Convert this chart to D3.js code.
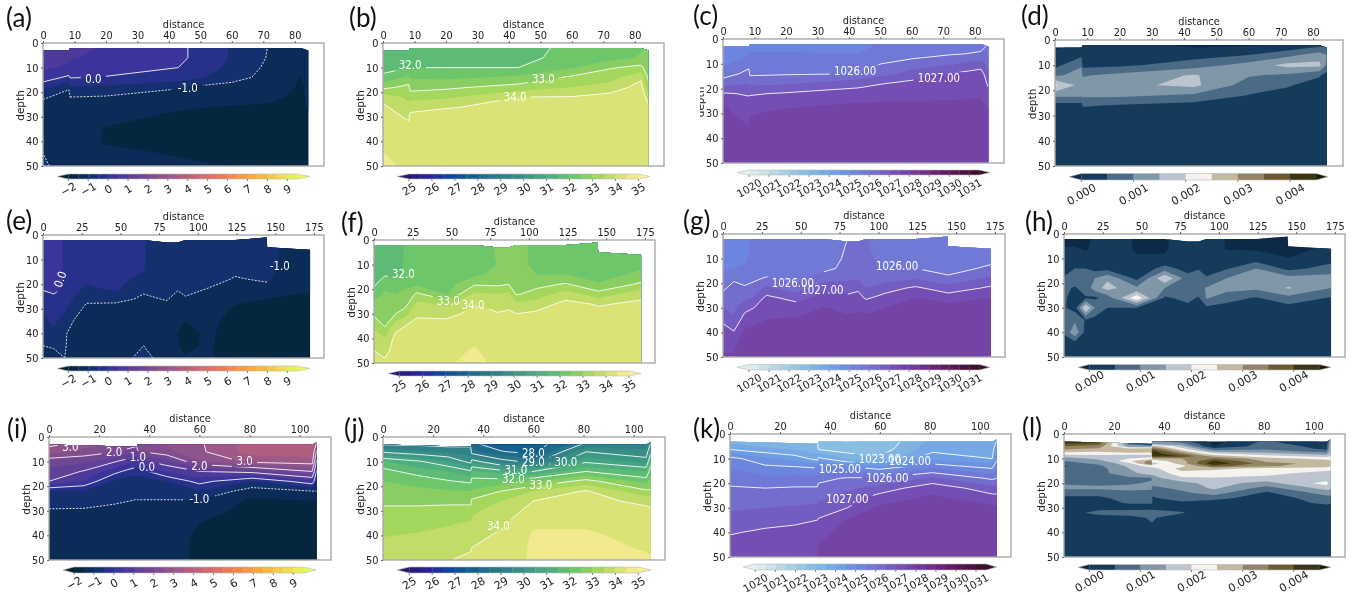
<!DOCTYPE html>
<html><head><meta charset="utf-8">
<script src="https://cdn.jsdelivr.net/npm/d3@7/dist/d3.min.js"></script>
<style>html,body{margin:0;background:#fff}svg{display:block;filter:blur(.4px)}text{font-family:"DejaVu Sans",sans-serif}</style>
</head><body><svg id="c" width="1352" height="595"></svg>
<script>
// ---------- shared grids ----------
const depthRows=[0,6,10,14,18,22,26,30,35,40,45,50];
const depthRowsL=[0,3,4,5,6,7,8,9,10,11,12,13,14,16,18,20,22,24,26,28,30,32,34,50];
const stations1=[0,8.2,8.6,20,43,60,72,82,84.3];
const stations2=[0,7,14,20,28,47,65,80,87,92,105,124,145,172.5];
const stations3=[0,14,26,35,35.4,47,60,81,105,106.8];
const surface1=[[0,3],[8.2,3],[8.6,2],[82,2],[84.3,3]];
const surface2=[[0,2],[65,2],[80,3],[87,3],[92,2],[124,2],[144.5,1],[144.8,5],[172.5,6]];
const surface3=[[0,3],[35,4],[35.4,3],[105,3],[106.2,2.5],[106.8,2]];
// ---------- fields: one list per station, one value per depth ----------
const tempA=[[.9,.8,.6,.25,-.3,-.95,-1.15,-1.2,-1.25,-1.25,-1,-.95],[.8,.6,.4,-.1,-.95,-1.15,-1.2,-1.25,-1.3,-1.3,-1.25,-1.15],[.7,.55,.3,.03,-.55,-1,-1.2,-1.25,-1.3,-1.3,-1.25,-1.2],[.5,.35,.15,-.02,-.6,-1.05,-1.3,-1.42,-1.52,-1.53,-1.42,-1.3],[.12,.12,0,-.2,-.97,-1.15,-1.47,-1.55,-1.6,-1.62,-1.52,-1.45],[-.55,-.55,-.62,-.8,-1.2,-1.35,-1.52,-1.6,-1.65,-1.65,-1.6,-1.51],[-1.02,-1.05,-1.12,-1.18,-1.3,-1.42,-1.55,-1.6,-1.65,-1.65,-1.62,-1.55],[-1.2,-1.2,-1.3,-1.52,-1.55,-1.58,-1.6,-1.6,-1.6,-1.6,-1.6,-1.55],[-1.2,-1.2,-1.25,-1.3,-1.4,-1.45,-1.45,-1.6,-1.6,-1.6,-1.6,-1.55]];
const salB=[[31.4,31.6,31.85,32.1,32.85,33.8,34.1,34.15,34.2,34.4,34.52,34.6],[31.5,31.75,32,32.65,33.15,33.4,33.6,33.95,34.1,34.2,34.3,34.42],[31.6,31.75,32,32.45,32.8,33.3,33.9,34.08,34.15,34.2,34.3,34.4],[31.7,31.8,32,32.4,32.9,33.4,33.97,34.15,34.2,34.25,34.3,34.35],[31.8,31.87,32,32.6,33.2,34,34.1,34.2,34.25,34.3,34.35,34.35],[32.1,32.15,32.45,33.1,33.5,34.03,34.15,34.2,34.25,34.3,34.35,34.35],[32.3,32.3,32.95,33.3,33.7,34.2,34.25,34.3,34.3,34.3,34.35,34.35],[32.4,32.55,33.15,33.9,34.2,34.3,34.3,34.3,34.3,34.3,34.35,34.35],[32.5,32.5,32.65,32.9,33.15,33.8,34.1,34.2,34.3,34.3,34.35,34.35]];
const denC=[[1024.9,1025.1,1025.4,1025.75,1026.3,1027.05,1027.52,1027.6,1027.65,1027.7,1027.75,1027.8],[1025,1025.4,1025.85,1026.15,1026.5,1026.95,1027.15,1027.35,1027.5,1027.65,1027.75,1027.8],[1025.1,1025.55,1025.7,1025.9,1026.4,1026.95,1027.2,1027.47,1027.6,1027.7,1027.75,1027.8],[1025.15,1025.55,1025.72,1025.95,1026.45,1027.05,1027.4,1027.6,1027.7,1027.7,1027.75,1027.8],[1025.35,1025.5,1025.85,1026,1026.85,1027.2,1027.52,1027.6,1027.7,1027.75,1027.8,1027.8],[1025.65,1025.8,1026.2,1026.7,1027.15,1027.35,1027.55,1027.65,1027.7,1027.75,1027.8,1027.8],[1025.7,1025.95,1026.45,1027,1027.3,1027.4,1027.55,1027.65,1027.7,1027.75,1027.8,1027.8],[1025.75,1026.05,1026.7,1027.25,1027.4,1027.45,1027.55,1027.65,1027.7,1027.75,1027.8,1027.8],[1025.9,1026.2,1026.35,1026.6,1026.9,1027.2,1027.4,1027.6,1027.7,1027.75,1027.8,1027.8]];
const shearD=[[-.4,.2,.35,.9,2.1,1.1,.3,.2,.15,.1,.1,.1],[-.1,.4,.95,1.2,1.3,1.1,.3,.2,.15,.1,.1,.1],[-.1,.2,.35,.95,1.25,1.1,.55,.2,.15,.1,.1,.1],[.05,.25,.4,1.15,1.38,1.1,.45,.2,.15,.1,.1,.1],[-.3,.3,.75,1.55,1.62,.9,.3,.2,.15,.1,.1,.1],[-.3,.5,1.2,1.05,.75,.48,.2,.15,.1,.1,.1,.1],[-.3,.85,1.65,.9,.55,.3,.15,.15,.1,.1,.1,.1],[-.1,1.25,1.65,.55,.3,.2,.1,.1,.1,.1,.1,.1],[.05,1,.9,.3,.45,.35,.2,.1,.1,.1,.1,.1]];
const tempE=[[.25,.2,.2,.15,.1,.03,-.2,-.45,-.6,-.75,-1,-1.1],[.25,.2,.2,.15,.1,.05,-.05,-.3,-.42,-.58,-.95,-1.15],[-.05,-.05,-.05,-.05,-.03,-.03,-.1,-.42,-.7,-.97,-.98,-1],[-.2,-.2,-.2,-.2,-.22,-.35,-.55,-.8,-1.02,-1.1,-1.1,-1.2],[-.25,-.25,-.25,-.28,-.4,-.6,-.92,-1.1,-1.15,-1.2,-1.25,-1.25],[-.3,-.3,-.3,-.32,-.38,-.42,-.9,-1.15,-1.2,-1.25,-1.3,-1.3],[-.48,-.48,-.48,-.48,-.62,-.95,-1.05,-1.15,-1.2,-1.15,-1,-.8],[-.7,-.7,-.7,-.72,-.8,-.92,-.98,-1.1,-1.3,-1.35,-1.35,-1.3],[-.75,-.75,-.75,-.77,-.85,-.98,-1.1,-1.2,-1.42,-1.51,-1.47,-1.4],[-.75,-.75,-.75,-.77,-.85,-.95,-1.02,-1.15,-1.5,-1.62,-1.58,-1.48],[-.8,-.8,-.8,-.82,-.9,-1,-1.1,-1.25,-1.4,-1.45,-1.46,-1.46],[-.85,-.85,-.85,-.95,-1.02,-1.1,-1.42,-1.55,-1.6,-1.6,-1.6,-1.6],[-.9,-.92,-.92,-.93,-.97,-1.07,-1.5,-1.6,-1.6,-1.6,-1.6,-1.6],[-1.15,-1.2,-1.22,-1.25,-1.3,-1.45,-1.6,-1.6,-1.65,-1.65,-1.65,-1.65]];
const salF=[[31.7,31.7,31.75,31.85,31.93,32.2,32.6,32.9,33.4,33.7,34,34.2],[31.7,31.75,31.8,31.95,32.3,32.6,32.65,32.8,32.97,33.55,33.85,34.1],[31.75,31.75,31.8,31.9,32.1,32.5,32.75,33,33.85,34.15,34.2,34.3],[32.05,32.05,32.05,32.1,32.35,32.65,32.8,33.3,34,34.15,34.25,34.3],[32.05,32.05,32.1,32.15,32.4,33.1,33.65,33.95,34.1,34.2,34.3,34.3],[32.1,32.1,32.15,32.2,32.3,32.45,33.4,33.9,34.15,34.25,34.35,34.42],[32.15,32.2,32.25,32.4,32.95,33.6,34,34.1,34.2,34.4,34.55,34.7],[32.55,32.55,32.52,32.65,32.9,33.5,33.7,34.05,34.15,34.25,34.3,34.35],[32.75,32.75,32.75,32.75,33,33.6,33.85,34.1,34.2,34.25,34.3,34.35],[32.7,32.7,32.7,32.7,32.8,32.95,33.6,34,34.15,34.25,34.3,34.35],[32.35,32.35,32.35,32.5,32.85,33.2,33.75,34.1,34.2,34.25,34.3,34.35],[32.2,32.2,32.25,32.5,33.05,33.75,34.15,34.2,34.25,34.3,34.3,34.35],[32.15,32.15,32.2,32.3,32.55,33.2,33.95,34.15,34.2,34.25,34.3,34.3],[32.3,32.3,32.4,32.6,33.1,33.85,34.1,34.2,34.25,34.3,34.35,34.35]];
const denG=[[1025.2,1025.25,1025.3,1025.42,1025.7,1025.9,1026.2,1026.5,1026.92,1027.2,1027.42,1027.55],[1025.3,1025.3,1025.35,1025.5,1025.9,1026.2,1026.32,1026.42,1026.55,1027.05,1027.45,1027.52],[1025.45,1025.45,1025.47,1025.52,1025.8,1026.07,1026.4,1026.8,1027.3,1027.6,1027.65,1027.7],[1025.55,1025.55,1025.55,1025.6,1025.9,1026.2,1026.55,1027,1027.4,1027.6,1027.65,1027.7],[1025.55,1025.55,1025.6,1025.7,1026.05,1026.6,1027.15,1027.35,1027.52,1027.65,1027.7,1027.7],[1025.6,1025.6,1025.65,1025.7,1025.85,1026.2,1026.8,1027.3,1027.55,1027.65,1027.7,1027.75],[1025.6,1025.65,1025.7,1025.85,1026.3,1026.8,1027.2,1027.52,1027.65,1027.7,1027.75,1027.75],[1025.97,1026.05,1026.1,1026.15,1026.4,1026.75,1027.15,1027.4,1027.6,1027.7,1027.75,1027.75],[1026.1,1026.15,1026.15,1026.2,1026.45,1026.9,1027.2,1027.45,1027.6,1027.7,1027.75,1027.75],[1026.05,1026.05,1026.1,1026.15,1026.25,1026.5,1026.93,1027.4,1027.6,1027.7,1027.75,1027.75],[1025.8,1025.8,1025.85,1025.9,1026.3,1026.8,1027.2,1027.5,1027.6,1027.7,1027.75,1027.75],[1025.75,1025.8,1025.85,1026,1026.45,1027.1,1027.5,1027.6,1027.65,1027.7,1027.75,1027.75],[1025.7,1025.7,1025.72,1025.8,1026.1,1026.7,1027.3,1027.7,1027.75,1027.75,1027.75,1027.75],[1025.8,1025.85,1025.85,1026.1,1026.6,1027.1,1027.5,1027.6,1027.65,1027.7,1027.75,1027.75]];
const shearH=[[-.3,.05,.2,.3,.55,.6,.55,.55,.6,.55,.3,.2],[-.3,.05,.2,.5,.75,.45,.35,.3,.9,1.4,.15,.1],[-.25,-.05,.2,.5,.65,.7,.45,2.05,.45,.3,.2,.1],[.1,.1,.15,.3,1,1.25,.4,1,.3,.2,.15,.1],[.1,.1,.15,.3,1.4,1.7,.7,.5,.2,.15,.1,.1],[-.02,-.02,.02,.1,.35,1.1,2.4,.5,.2,.15,.15,.1],[-.02,-.02,.02,.7,1.95,1,.42,.2,.15,.1,.1,.1],[.1,.1,.15,.3,.7,.75,.65,.35,.2,.1,.1,.1],[.1,.1,.2,.45,.8,.8,.45,.3,.2,.1,.1,.1],[.1,.1,.1,.3,.55,1.05,1.05,.4,.2,.1,.1,.1],[-.01,-.01,.1,.45,1,1.2,.7,.3,.15,.1,.1,.1],[-.2,-.05,.25,1,1.2,1.1,.45,.2,.15,.1,.1,.1],[-.4,-.15,.02,.35,1.2,1.55,.85,.3,.15,.1,.1,.1],[.1,.1,.3,.7,1.2,1,.45,.2,.15,.1,.1,.1]];
const tempI=[[3.6,2.7,1.65,1.4,1,-.5,-.8,-1.05,-1.2,-1.3,-1.35,-1.4],[3.2,2.3,1.6,.95,.45,-.55,-.85,-1.05,-1.2,-1.3,-1.35,-1.4],[3,2.05,1.05,.2,-.6,-.75,-.95,-1.1,-1.2,-1.3,-1.35,-1.4],[2.9,1.5,.5,-.4,-.65,-.9,-1.02,-1.15,-1.2,-1.3,-1.35,-1.4],[2.8,1.95,.8,-.3,-.7,-.85,-1.02,-1.1,-1.2,-1.3,-1.35,-1.4],[2.75,2.35,1.3,.55,-.5,-.8,-1.03,-1.15,-1.25,-1.35,-1.4,-1.45],[2.95,2.9,2.45,1,.2,-.55,-1.05,-1.3,-1.5,-1.55,-1.55,-1.52],[3.8,3.7,3.15,1.2,-.55,-1.25,-1.6,-1.65,-1.7,-1.7,-1.7,-1.7],[3.8,3.75,3.3,2,.35,-1,-1.5,-1.6,-1.65,-1.7,-1.7,-1.7],[3.7,1.8,.8,-.1,-.5,-1,-1.5,-1.6,-1.65,-1.7,-1.7,-1.7]];
const salJ=[[28,29.9,31.55,32.2,32.5,32.6,32.9,33.1,33.3,33.47,33.7,33.85],[28.2,29.6,31.1,31.75,32.35,32.6,32.9,33.1,33.35,33.55,33.75,33.95],[28.2,29.4,30.55,31.5,32.05,32.55,32.9,33.15,33.45,33.65,33.85,33.98],[28.4,29.3,29.8,31.1,31.9,32.5,32.9,33.15,33.55,33.7,33.95,34.1],[27.7,28.7,30.3,31.6,32.2,32.55,33.1,33.4,33.6,33.8,34,34.15],[27.3,28.05,29.3,31.25,32.25,33,33.5,33.75,33.9,34.1,34.2,34.3],[27.7,27.8,28.8,31,32.5,33.5,34,34.15,34.45,34.55,34.57,34.55],[28.4,30,30.9,32,33.2,34.05,34.2,34.3,34.45,34.55,34.6,34.65],[29,29.6,30.3,31.5,32.3,33.1,33.85,34.15,34.3,34.4,34.47,34.55],[29.4,30.8,31.8,32.3,32.7,33.05,33.8,34.1,34.3,34.4,34.47,34.52]];
const denK=[[1022.7,1023.9,1025.2,1025.5,1025.8,1026.05,1026.25,1026.45,1026.65,1026.95,1027.2,1027.3],[1022.7,1023.6,1024.6,1025.2,1025.6,1026,1026.3,1026.5,1026.8,1027.1,1027.3,1027.4],[1022.8,1023.4,1024.3,1025.15,1025.65,1026.05,1026.3,1026.55,1026.9,1027.15,1027.35,1027.45],[1022.9,1023.2,1023.8,1025.05,1025.65,1026.05,1026.35,1026.6,1027,1027.25,1027.4,1027.5],[1022.5,1022.9,1024.15,1025.3,1025.85,1026.15,1026.4,1026.7,1027.05,1027.35,1027.52,1027.55],[1022.2,1022.7,1023.4,1025.2,1026.05,1026.4,1026.75,1027,1027.55,1027.65,1027.7,1027.75],[1022.5,1022.7,1023.1,1024.9,1026.05,1026.7,1027.25,1027.6,1027.7,1027.75,1027.8,1027.85],[1023.5,1023.8,1024.35,1025.55,1026.6,1027.35,1027.6,1027.7,1027.75,1027.8,1027.85,1027.85],[1023.6,1023.7,1024,1025,1025.9,1026.7,1027.2,1027.6,1027.7,1027.75,1027.8,1027.85],[1023.5,1024.6,1024.9,1025.4,1026,1026.7,1027.2,1027.6,1027.7,1027.75,1027.8,1027.85]];
const shearL=[[4.5,4.5,4,3.5,3.1,2.7,2.2,1.7,1.3,1,.8,.45,.55,.65,.75,.95,1.1,.7,.4,.3,.2,.2,.15,.1],[4.5,4.4,3.7,3.3,2.9,2.6,2.2,1.8,1.6,1.3,1.1,.9,.8,.85,.7,.9,1.1,.7,.4,.3,.3,.7,.25,.1],[.6,.7,.9,1.3,2.7,2.9,2.2,1.7,2,2.4,1.8,1.6,1.5,1.3,.9,.9,1.2,.8,.7,.55,.3,.75,.35,.1],[-.3,-.1,-.1,1.3,2.8,2.8,2.2,1.7,2.3,3.2,3.6,2.3,1.8,1.8,.9,1.1,1.1,.8,.75,.55,.3,.8,.55,.1],[1.2,1.2,1.4,2.8,3.6,4.2,4.3,4.1,2.8,2.2,1.8,2.2,1.8,1.6,1.3,1.1,.9,.6,.45,.5,.3,.8,.55,.1],[.6,.7,1.2,1.7,2.2,2.8,3.4,4,3,2.8,2.7,2.3,2.7,2.3,1.9,1.3,1.1,.9,.75,.4,.3,.55,.2,.1],[-.3,-.2,-.1,-.05,.7,1.3,2.1,2.8,3.5,4.1,4.4,3.7,2.6,2.3,1.95,1.7,1.6,1.2,.7,.2,.15,.1,.1,.1],[.6,.6,.7,.8,.9,1.2,1.7,2.2,2.7,2.9,3.2,3.1,2.4,2.2,1.8,1.3,.8,.4,.2,.2,.15,.1,.1,.1],[-.3,-.1,.1,.3,.4,.8,1.3,1.8,2.3,2.7,2.8,2.7,2.3,1.75,1.75,2.2,1.7,1.2,.8,.6,.3,.2,.15,.1],[1.6,1.7,1.8,1.8,1.8,1.7,1.8,2,2.3,2.6,2.7,2.6,2.2,1.7,1.6,1.8,1.6,1.2,.8,.55,.3,.2,.15,.1]];
// ---------- colour-bar levels and tick labels ----------
const tempLevels=d3.range(-2,9.51,.5), salLevels=d3.range(25,35.01,.5), denLevels=d3.range(1020,1031.51,.5), shearLevels=d3.range(0,4.51,.5);
const tempTicks=d3.range(-2,10), salTicks=d3.range(25,36), denTicks=d3.range(1020,1032), shearTicks=[0,1,2,3,4];
const thermalStops=["rgb(3,35,51)","rgb(13,48,100)","rgb(53,50,155)","rgb(93,62,153)","rgb(126,77,143)","rgb(158,89,135)","rgb(193,100,121)","rgb(225,113,97)","rgb(246,139,69)","rgb(251,173,60)","rgb(246,211,70)","rgb(231,250,90)"];
const halineStops=["rgb(41,24,107)","rgb(42,35,160)","rgb(15,71,153)","rgb(18,95,142)","rgb(38,116,137)","rgb(53,136,136)","rgb(65,157,133)","rgb(81,178,124)","rgb(111,198,107)","rgb(160,214,91)","rgb(212,225,112)","rgb(253,238,153)"];
const denseStops=["rgb(230,240,240)","rgb(191,221,229)","rgb(156,202,225)","rgb(128,181,226)","rgb(110,159,229)","rgb(108,134,222)","rgb(115,108,205)","rgb(117,76,178)","rgb(115,55,150)","rgb(104,30,112)","rgb(80,20,75)","rgb(54,14,36)"];
const diffBands=["#0c2a47","#143a5c","#4a6a86","#8097a8","#bcc5cf","#f6f3ef","#c2b9a0","#928566","#6b5a2e","#3a3614","#1a1a05"];
const interp=s=>d3.piecewise(d3.interpolateRgb,s);
const kinds={
 temp:{levels:tempLevels,ticks:tempTicks,color:interp(thermalStops),fmt:d=>d<0?"\u2212"+(-d):""+d,off:10,fs:11},
 sal:{levels:salLevels,ticks:salTicks,color:interp(halineStops),fmt:d=>""+d,off:10,fs:11},
 den:{levels:denLevels,ticks:denTicks,color:interp(denseStops),fmt:d=>""+d,off:13,fs:10.5},
 shear:{levels:shearLevels,ticks:shearTicks,bands:diffBands,fmt:d=>(d/1000).toFixed(3),off:11,fs:11}
};
// ---------- panels ----------
const row1={st:stations1,sf:surface1,xMax:89.3,xt:d3.range(0,81,10)}, row2={st:stations2,sf:surface2,xMax:181.5,xt:d3.range(0,176,25)}, row3={st:stations3,sf:surface3,xMax:112.5,xt:d3.range(0,101,20)};
const panels=[
 {n:"(a)",nx:6,ny:27,r:row1,k:"temp",f:tempA,box:[43,324,43,166],bar:[57,310,174,179,68.3,287.3],lines:[[0],[-1]],labels:[["0.0",16,14.5],["-1.0",46,18]]},
 {n:"(b)",nx:349,ny:27,r:row1,k:"sal",f:salB,box:[383,664,43,166],bar:[397,650,174,179,409,638.3],lines:[[32],[33],[34]],labels:[["32.0",8.6,8.8],["33.0",51,14.7],["34.0",42,22]]},
 {n:"(c)",nx:693,ny:25,r:row1,k:"den",f:denC,box:[723,1004,39,163],bar:[737,990,170,175,749,969.3],lines:[[1026],[1027]],labels:[["1026.00",42,13],["1027.00",68.6,15.8]],cutDepth:700},
 {n:"(d)",nx:1021,ny:25,r:row1,k:"shear",f:shearD,box:[1055,1343,40,166],bar:[1069,1328,173.5,180,1081.3,1290],barOff:14,lines:[],labels:[]},
 {n:"(e)",nx:6,ny:230,r:row2,k:"temp",f:tempE,box:[43,324,235,358],bar:[57,310,366,371,68.3,287.3],lines:[[0,[[0,10.5]]],[-1,[[0,145.2]]]],labels:[["0.0",11,18,-70],["-1.0",153,12.5]]},
 {n:"(f)",nx:341,ny:232,r:row2,k:"sal",f:salF,box:[374,655,240,363],bar:[388,641,371,376,399.3,629],lines:[[32,[[0,11]]],[33],[34]],labels:[["32.0",19,13.8],["33.0",48,24.8],["34.0",64,26.5]]},
 {n:"(g)",nx:683,ny:230,r:row2,k:"den",f:denG,box:[723,1005,234,357],bar:[737,990,364.5,370,749,969.3],lines:[[1026,[[0,36],[65,80],[125,173]]],[1027,[[0,47],[80,173]]]],labels:[["1026.00",45,19.8],["1027.00",64,22.7],["1026.00",112,12.7]]},
 {n:"(h)",nx:1025,ny:231,r:row2,k:"shear",f:shearH,box:[1064,1345,234,357],bar:[1078,1331,364.5,370,1089.3,1293.7],lines:[],labels:[]},
 {n:"(i)",nx:7,ny:438,r:row3,k:"temp",f:tempI,box:[49,331,437,560],bar:[63,316,567,573,74,293.3],lines:[[3],[2],[1],[0],[-1]],labels:[["3.0",8.5,4],["2.0",26,6],["1.0",35.5,8],["0.0",39,12],["2.0",60,11.5],["3.0",78,9.7],["-1.0",60,25]]},
 {n:"(j)",nx:344,ny:438,r:row3,k:"sal",f:salJ,box:[383,665,437,560],bar:[397,651,567,573,409.3,638.3],lines:[[28],[29],[30],[31],[32],[33],[34]],labels:[["28.0",60,6.5],["29.0",60,10],["30.0",73,10],["31.0",53,13.5],["32.0",52,16.8],["33.0",63,19.5],["34.0",46,36]]},
 {n:"(k)",nx:693,ny:438,r:row3,k:"den",f:denK,box:[730,1011,434,557],bar:[743.3,996.7,564,570,755.3,976],lines:[[1023],[1024],[1025],[1026],[1027]],labels:[["1023.00",60,10],["1024.00",72,11],["1025.00",44,14],["1026.00",63,17.7],["1027.00",47,26.5]]},
 {n:"(l)",nx:1022,ny:437,r:row3,k:"shear",f:shearL,depths:depthRowsL,box:[1064,1345,434,557],bar:[1078,1331,564.5,570,1089.3,1293.7],lines:[],labels:[]}
];
const svg=d3.select("#c"), defs=svg.append("defs"), ink="#222", squeeze=.89;
panels.forEach((p,ip)=>{
 const kind=kinds[p.k], [L,R,T,B]=p.box, xs=p.r.st, ds=p.depths||depthRows;
 const x=d3.scaleLinear().domain([0,p.r.xMax]).range([L,R]), y=d3.scaleLinear().domain([0,50]).range([T,B]);
 const n=xs.length,m=ds.length;
 // grid index -> pixel; the outer half-cell reaches past the footprint so the clip edge stays clean
 const gx=d3.scaleLinear().domain([0,...xs.map((_,i)=>i+.5),n]).range([x(xs[0])-3,...xs.map(x),x(xs[n-1])+3]);
 const gy=d3.scaleLinear().domain([0,...ds.map((_,i)=>i+.5),m]).range([y(ds[0])-3,...ds.map(y),y(ds[m-1])+3]);
 const flat=[]; for(let j=0;j<m;j++) for(let i=0;i<n;i++) flat.push(p.f[i][j]);
 const contour=t=>d3.contours().size([n,m]).smooth(true).thresholds([t])(flat)[0];
 const path=d3.geoPath(d3.geoTransform({point(a,b){this.stream.point(gx(a),gy(b));}}));
 const lev=kind.levels;
 const colorOf=i=>{
  if(kind.bands) return kind.bands[i+1];
  const lo=lev[0],hi=lev[lev.length-1];
  if(i<0) return kind.color(0);
  if(i>=lev.length-1) return kind.color(1);
  return kind.color(((lev[i]+lev[i+1])/2-lo)/(hi-lo));
 };
 const g=svg.append("g");
 const sf=p.r.sf, last=sf[sf.length-1][0];
 const outline=d3.line()([...sf.map(d=>[x(d[0]),y(d[1])]),[x(last),y(50)],[x(0),y(50)]])+"Z";
 defs.append("clipPath").attr("id","fp"+ip).append("path").attr("d",outline);
 const body=g.append("g").attr("clip-path",`url(#fp${ip})`);
 body.append("path").attr("d",outline).attr("stroke",colorOf(-1)).attr("fill",colorOf(-1));
 lev.forEach((t,i)=>{
  const c=contour(t); if(!c.coordinates.length) return;
  body.append("path").attr("d",path(c)).attr("fill",colorOf(i));
 });
 const txtW=s=>s.length*3.2+3;
 const mask=defs.append("mask").attr("id","lm"+ip).attr("maskUnits","userSpaceOnUse").attr("x",0).attr("y",0).attr("width",1352).attr("height",595);
 mask.append("rect").attr("width",1352).attr("height",595).attr("fill","#fff");
 p.labels.forEach(l=>mask.append("rect").attr("x",-txtW(l[0])).attr("y",-6).attr("width",2*txtW(l[0])).attr("height",12).attr("fill","#000").attr("transform",`translate(${x(l[1])},${y(l[2])}) rotate(${l[3]||0})`));
 const lg=body.append("g").attr("mask",`url(#lm${ip})`);
 const onEdge=(a,b)=>(a[0]<=.5&&b[0]<=.5)||(a[0]>=n-.5&&b[0]>=n-.5)||(a[1]<=.5&&b[1]<=.5)||(a[1]>=m-.5&&b[1]>=m-.5);
 const domX=d3.scaleLinear().domain(xs.map((_,i)=>i+.5)).range(xs).clamp(true);
 p.lines.forEach(([lv,vis])=>{
  const c=contour(lv); let d="";
  const seen=(a,b)=>{ if(!vis) return true; const mx=(domX(a[0])+domX(b[0]))/2; return vis.some(r=>mx>=r[0]&&mx<=r[1]); };
  c.coordinates.forEach(poly=>poly.forEach(ring=>{
   let pen=false;
   for(let i=1;i<ring.length;i++){
    const a=ring[i-1],b=ring[i];
    if(onEdge(a,b)||!seen(a,b)){pen=false;continue;}
    if(!pen){d+=`M${gx(a[0])},${gy(a[1])}`;pen=true;}
    d+=`L${gx(b[0])},${gy(b[1])}`;
   }
  }));
  lg.append("path").attr("d",d).attr("fill","none").attr("stroke","#fff").attr("stroke-opacity",.85).attr("stroke-width",1).attr("stroke-dasharray",lv<0?"2,1.4":null);
 });
 p.labels.forEach(l=>g.append("text").text(l[0]).attr("transform",`translate(${x(l[1])},${y(l[2])}) rotate(${l[3]||0}) scale(${squeeze},1)`).attr("text-anchor","middle").attr("dy","0.37em").attr("font-size",11.5).attr("fill","#fff"));
 g.append("rect").attr("x",L).attr("y",T).attr("width",R-L).attr("height",B-T).attr("fill","none").attr("stroke","#a9a9a9").attr("stroke-width",1.4);
 const ax=g.append("g").attr("transform",`translate(0,${T})`).call(d3.axisTop(x).tickValues(p.r.xt).tickSize(2).tickPadding(2));
 const ay=g.append("g").attr("transform",`translate(${L},0)`).call(d3.axisLeft(y).tickValues([0,10,20,30,40,50]).tickSize(2).tickPadding(3));
 [ax,ay].forEach(a=>{a.select(".domain").remove();a.selectAll("line").attr("stroke","#666");a.selectAll("text").attr("font-size",11).attr("font-family","DejaVu Sans").attr("fill",ink).attr("transform",`scale(${squeeze},1)`);});
 g.append("text").text("distance").attr("transform",`translate(${(L+R)/2},${T-15}) scale(${squeeze},1)`).attr("text-anchor","middle").attr("font-size",11).attr("fill",ink);
 let dHost=g;
 if(p.cutDepth){defs.append("clipPath").attr("id","dc"+ip).append("rect").attr("x",p.cutDepth).attr("y",T).attr("width",40).attr("height",B-T);dHost=g.append("g").attr("clip-path",`url(#dc${ip})`);}
 dHost.append("text").text("depth").attr("transform",`translate(${L-19},${(T+B)/2+1}) rotate(-90)`).attr("text-anchor","middle").attr("font-size",10.5).attr("fill",ink);
 g.append("text").text(p.n).attr("x",p.nx).attr("y",p.ny).attr("font-size",26).attr("fill","#111").style("font-family","Lato");
 const [b0,b1,by0,by1,t0,t1]=p.bar, tk=kind.ticks;
 const cb=d3.scaleLinear().domain([tk[0],tk[tk.length-1]]).range([t0,t1]);
 const bg=g.append("g");
 const hi=lev[lev.length-1], ym=(by0+by1)/2;
 bg.append("path").attr("d",d3.line()([[cb(lev[0]),by0],[b0,ym],[cb(lev[0]),by1]])+"Z").attr("fill",colorOf(-1));
 bg.append("path").attr("d",d3.line()([[cb(hi),by0],[b1,ym],[cb(hi),by1]])+"Z").attr("fill",colorOf(lev.length-1));
 bg.selectAll("rect").data(d3.range(lev.length-1)).join("rect").attr("x",i=>cb(lev[i])).attr("width",i=>cb(lev[i+1])-cb(lev[i])+.3).attr("y",by0).attr("height",by1-by0).attr("fill",i=>colorOf(i));
 bg.append("path").attr("d",d3.line()([[b0,ym],[cb(lev[0]),by0],[cb(hi),by0],[b1,ym],[cb(hi),by1],[cb(lev[0]),by1]])+"Z").attr("fill","none").attr("stroke","#bbb").attr("stroke-width",.6);
 bg.selectAll("line").data(tk).join("line").attr("x1",cb).attr("x2",cb).attr("y1",by1).attr("y2",by1+2).attr("stroke","#555").attr("stroke-width",.7);
 bg.selectAll("text").data(tk).join("text").text(kind.fmt).attr("transform",d=>`translate(${cb(d)},${by1+(p.barOff||kind.off)}) rotate(-30)`).attr("text-anchor","middle").attr("dy","0.37em").attr("font-size",kind.fs).attr("fill",ink);
});
</script></body></html>
